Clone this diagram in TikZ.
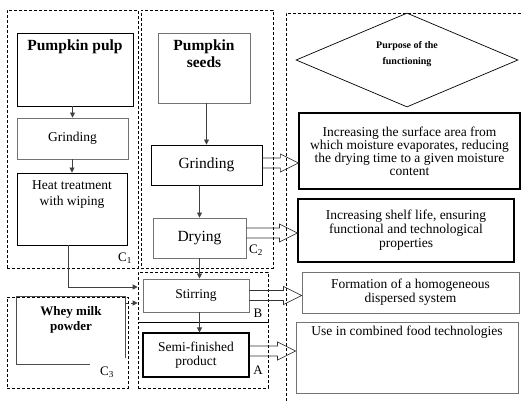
\documentclass[tikz,border=0pt]{standalone}
\usepackage{fontspec}
\setmainfont{Liberation Serif}
\usetikzlibrary{shapes.geometric,arrows.meta,calc}

\begin{document}
\begin{tikzpicture}[x=1pt, y=-1pt]

    % Styles
    \tikzstyle{block} = [rectangle, draw=black, line width=0.9pt, inner sep=2pt, align=center, font=\fontsize{13.5}{14}\selectfont]
    \tikzstyle{greyblock} = [block, draw=black!55]
    \tikzstyle{bigtext} = [font=\fontsize{15.5}{17}\selectfont]
    \tikzstyle{title} = [font=\fontsize{15.5}{17}\bfseries, align=center, inner sep=0pt]
    \tikzstyle{toptext} = [font=\fontsize{13.5}{16}\selectfont, align=center, inner sep=0pt]
    \tikzstyle{tag} = [font=\fontsize{13}{14}\selectfont, inner sep=0pt]
    \tikzstyle{arrow} = [draw=black!75, line width=0.8pt, -{Triangle[length=5pt,width=5pt]}]
    \tikzset{zone/.style={rectangle, draw=black, dash pattern=on 3pt off 2pt, line width=0.6pt, inner sep=0pt}}
    \tikzset{hollow/.style={draw=black!80, line width=0.7pt, to path={let \p1=(\tikztostart), \p2=(\tikztotarget) in
        (\x1,\y1+5pt) -- (\x2-18pt,\y1+5pt) -- (\x2-18pt,\y1+9pt) -- (\x2,\y1) -- (\x2-18pt,\y1-9pt) -- (\x2-18pt,\y1-5pt) -- (\x1,\y1-5pt)}}}

    \useasboundingbox (0,0) rectangle (521,403);

    % Zones
    \node (zc1) [zone, minimum width=131pt, minimum height=258pt] at (72.5,139) {};
    \node (zc2) [zone, minimum width=132pt, minimum height=258pt] at (207,139) {};
    \node (zb) [zone, minimum width=130pt, minimum height=50pt] at (203,297) {};
    \node (za) [zone, minimum width=130pt, minimum height=66pt] at (203,355) {};
    \node (zc3) [zone, minimum width=121pt, minimum height=91pt] at (67.5,342.5) {};
    \draw [zone] (521,13) -- (286,13) -- (286,403);

    % Nodes
    \node (pulp) [block, minimum width=116pt, minimum height=73pt,
        label={[title, anchor=north, yshift=-7pt]north:Pumpkin pulp}] at (75,69.5) {};
    \node (gr1) [greyblock, minimum width=111pt, minimum height=41pt] at (72.5,138.5) {Grinding};
    \node (heat) [block, minimum width=110pt, minimum height=72pt,
        label={[toptext, anchor=north, yshift=-8pt]north:Heat treatment\\with wiping}] at (72,209) {};
    \node (seeds) [greyblock, minimum width=92pt, minimum height=70pt,
        label={[title, anchor=north, yshift=-7pt]north:Pumpkin\\seeds}] at (204,68) {};
    \node (gr2) [block, bigtext, minimum width=111pt, minimum height=40pt] at (206.5,165) {Grinding};
    \node (dry) [greyblock, bigtext, minimum width=93pt, minimum height=40pt] at (199.5,238) {Drying};
    \node (stir) [greyblock, minimum width=106pt, minimum height=33pt] at (196,295.5) {Stirring};
    \node (semi) [block, line width=1.1pt, minimum width=106pt, minimum height=44pt] at (196,355) {Semi-finished\\product};
    \node (whey) [rectangle, minimum width=108pt, minimum height=67pt,
        label={[title, font=\fontsize{13}{15}\bfseries, anchor=north, yshift=-9pt]north:Whey milk\\powder}] at (71,330.5) {};
    \draw [draw=black!70, line width=0.8pt] ([xshift=19pt]whey.south) -- (whey.south west) -- (whey.north west) -- (whey.north east) -- ([yshift=6pt]whey.south east);

    \node (purpose) [diamond, draw=black, line width=0.7pt, minimum width=222pt, minimum height=94pt, inner sep=0pt,
        label={[title, font=\fontsize{10}{16}\bfseries, yshift=6pt]center:Purpose of the\\functioning}] at (407,60) {};
    \node (box1) [block, line width=1.3pt, minimum width=221pt, minimum height=76pt, font=\fontsize{13.5}{13}\selectfont] at (409.5,151)
        {Increasing the surface area from\\which moisture evaporates, reducing\\the drying time to a given moisture\\content};
    \node (box2) [block, line width=1.1pt, minimum width=216pt, minimum height=63pt] at (406,230.5)
        {Increasing shelf life, ensuring\\functional and technological\\properties};
    \node (box3) [greyblock, minimum width=217pt, minimum height=41pt] at (410.5,292.5)
        {Formation of a homogeneous\\dispersed system};
    \node (box4) [greyblock, minimum width=222pt, minimum height=71pt,
        label={[toptext, anchor=north, yshift=-4pt]north:Use in combined food technologies}] at (407,357.5) {};

    % Tags
    \node (lc1) [tag] at (125,258) {C\textsubscript{1}};
    \node (lc2) [tag] at (256,250) {C\textsubscript{2}};
    \node (lb) [tag] at (258,313) {B};
    \node (la) [tag] at (258,370) {A};
    \node (lc3) [tag] at (107,372) {C\textsubscript{3}};

    % Arrows
    \draw [arrow] (gr1.north |- pulp.south) -- (gr1.north);
    \draw [arrow] (heat.north |- gr1.south) -- (heat.north);
    \draw [arrow] (gr2.north |- seeds.south) -- (gr2.north);
    \draw [arrow] (dry.north |- gr2.south) -- (dry.north);
    \draw [arrow] (dry.south) -- (dry.south |- stir.north);
    \draw [arrow] (dry.south |- stir.south) -- (dry.south |- semi.north);
    \draw [arrow] ([xshift=-4pt]heat.south) |- ([yshift=10pt]zb.west);
    \draw [arrow, dashed] ([yshift=27.5pt]whey.east) -- ([yshift=-6pt]zb.west);

    % Hollow arrows
    \draw [hollow] ([yshift=2pt]gr2.east) to (box1.west);
    \draw [hollow] ([yshift=5pt]dry.east) to (box2.west);
    \draw [hollow] (stir.east) to (box3.west);
    \draw [hollow] ([yshift=4pt]semi.east) to (box4.west);
\end{tikzpicture}
\end{document}
